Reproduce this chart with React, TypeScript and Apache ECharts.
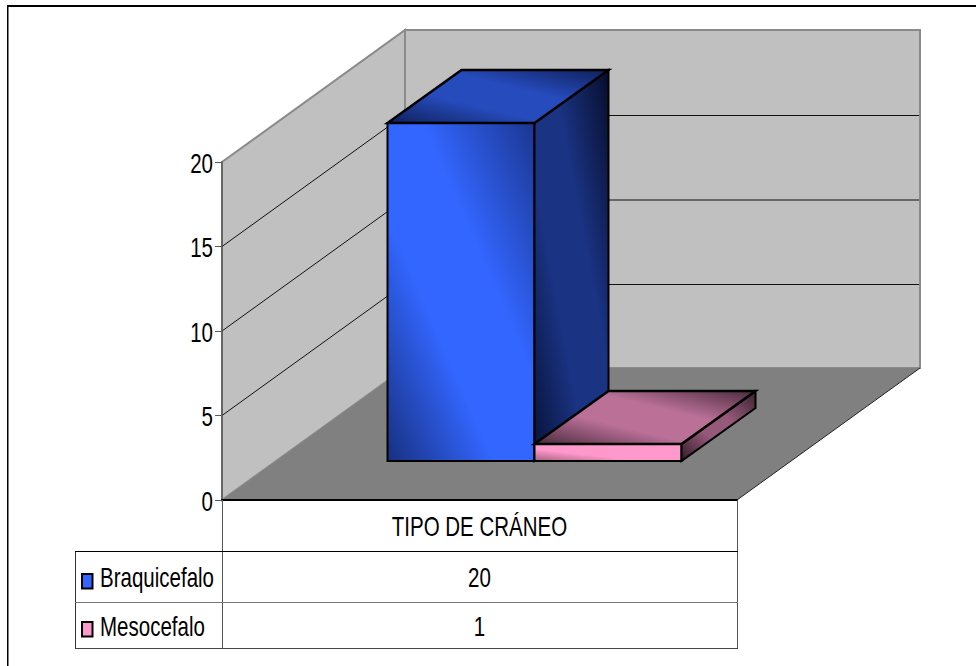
import React, { useEffect, useRef } from "react";
import * as echarts from "echarts";

// Chart contents
const categories = ["TIPO DE CRÁNEO"];
const braquicefalo = [20];
const mesocefalo = [1];
const seriesNames = ["Braquicefalo", "Mesocefalo"];
const yTickValues = [0, 5, 10, 15, 20];
const gridTicks = [5, 10, 15];

// Narrow lettering is obtained by squeezing Liberation Sans horizontally
const FONT = "'Liberation Sans', Arial, sans-serif";
const FONT_SIZE = 27;
const TEXT_SQUEEZE = 0.76;

// Projection of the 3D box onto the page
const WALL_DX = 183;
const WALL_DY = 132;
const BACK_LINE_NUDGE = 1;
const BAR_SHIFT_DX = 55;
const BAR_SHIFT_DY = 39;
const BAR_DEPTH_DX = 74;
const BAR_DEPTH_DY = 53;
const BAR_WIDTH = 147;

type Stops = [string, string, string];
const diag = (c: Stops) => ({
  type: "linear",
  x: 0,
  y: 1,
  x2: 1,
  y2: 0,
  colorStops: [
    { offset: 0, color: c[0] },
    { offset: 0.36, color: c[1] },
    { offset: 0.62, color: c[1] },
    { offset: 1, color: c[2] },
  ],
});

const BLUE = {
  front: diag(["#17307f", "#3366ff", "#1b3690"]),
  side: diag(["#081238", "#1a3383", "#070d2a"]),
  top: diag(["#0e1f5a", "#264bbc", "#0e1f5a"]),
  key: "#3366ff",
};
const PINK = {
  front: diag(["#a3617f", "#ff99cc", "#ff99cc"]),
  side: diag(["#2f1a26", "#96597a", "#3a2230"]),
  top: diag(["#4a2b3d", "#bb7098", "#4a2b3d"]),
  key: "#ff99cc",
};

const squeezedText = (text: string, x: number, y: number, align: string, z2 = 5) => ({
  type: "text",
  x,
  y,
  scaleX: TEXT_SQUEEZE,
  z2,
  style: { text, fill: "#000", font: `${FONT_SIZE}px ${FONT}`, align, verticalAlign: "middle" },
});

// Draws the walls, floor and gridlines of the box from the axis scales.
function renderScene(params: any, api: any) {
  const cs = params.coordSys;
  const x0 = cs.x;
  const x1 = cs.x + cs.width;
  const yZero = api.coord([0, 0])[1];
  const yTop = api.coord([0, 20])[1];
  const wallEdge = { stroke: "#8a8a8a", lineWidth: 2 };
  const children: any[] = [
    {
      type: "polygon",
      shape: { points: [[x0, yZero], [x0, yTop], [x0 + WALL_DX, yTop - WALL_DY], [x0 + WALL_DX, yZero - WALL_DY]] },
      style: { fill: "#c0c0c0", ...wallEdge },
    },
    {
      type: "polygon",
      shape: { points: [[x0 + WALL_DX, yZero - WALL_DY], [x0 + WALL_DX, yTop - WALL_DY], [x1 + WALL_DX, yTop - WALL_DY], [x1 + WALL_DX, yZero - WALL_DY]] },
      style: { fill: "#c0c0c0", ...wallEdge },
    },
    {
      type: "polygon",
      shape: { points: [[x0, yZero], [x0 + WALL_DX, yZero - WALL_DY], [x1 + WALL_DX, yZero - WALL_DY], [x1, yZero]] },
      style: { fill: "#808080" },
    },
    {
      type: "line",
      shape: { x1: x1, y1: yZero, x2: x1 + WALL_DX, y2: yZero - WALL_DY },
      style: { stroke: "#222", lineWidth: 1 },
    },
  ];
  gridTicks.forEach((t) => {
    const y = api.coord([0, t])[1];
    children.push({
      type: "polyline",
      shape: { points: [[x0, y], [x0 + WALL_DX, y - WALL_DY], [x0 + WALL_DX, y - WALL_DY + BACK_LINE_NUDGE], [x1 + WALL_DX - 1, y - WALL_DY + BACK_LINE_NUDGE]] },
      style: { fill: "none", stroke: "#111", lineWidth: 1 },
    });
  });
  return { type: "group", children };
}

// Tick labels of both axes, placed from the axis scales.
function renderAxisText(params: any, api: any) {
  const cs = params.coordSys;
  const children: any[] = yTickValues.map((v) =>
    squeezedText(String(v), cs.x - 9, api.coord([0, v])[1] + 1, "right"),
  );
  children.push(squeezedText(categories[0], api.coord([0, 0])[0], api.coord([0, 0])[1] + 26, "center"));
  return { type: "group", children };
}

// One 3D column; index 0 sits left of the category centre, index 1 right of it.
function barRenderer(index: number, look: typeof BLUE) {
  return (_params: any, api: any) => {
    const centre = api.coord([api.value(0), 0])[0];
    const yZero = api.coord([0, 0])[1] - BAR_SHIFT_DY;
    const top = api.coord([0, api.value(1)])[1] - BAR_SHIFT_DY;
    const l = centre + BAR_SHIFT_DX + (index - 1) * BAR_WIDTH;
    const r = l + BAR_WIDTH;
    const dx = BAR_DEPTH_DX;
    const dy = BAR_DEPTH_DY;
    return {
      type: "group",
      children: [
        {
          type: "polygon",
          shape: { points: [[l, yZero], [l, top], [r, top], [r, yZero]] },
          style: { fill: look.front, stroke: "#000", lineWidth: 2, lineJoin: "miter" },
        },
        {
          type: "polygon",
          shape: { points: [[r, yZero], [r, top], [r + dx, top - dy], [r + dx, yZero - dy]] },
          style: { fill: look.side, stroke: "#000", lineWidth: 2, lineJoin: "miter" },
        },
        {
          type: "polygon",
          shape: { points: [[l, top], [l + dx, top - dy], [r + dx, top - dy], [r, top]] },
          style: { fill: look.top, stroke: "#000", lineWidth: 2.5, lineJoin: "miter" },
        },
      ],
    };
  };
}

const tableLine = (x1: number, y1: number, x2: number, y2: number, stroke: string) => ({
  type: "line",
  z: 10,
  shape: { x1, y1, x2, y2 },
  style: { stroke, lineWidth: 1 },
});

const cellText = (text: string, x: number, y: number, align: string) => ({
  type: "text",
  z: 11,
  x,
  y,
  scaleX: TEXT_SQUEEZE,
  style: { text, fill: "#000", font: `${FONT_SIZE}px ${FONT}`, align, verticalAlign: "middle" },
});

const keyBox = (y: number, fill: string) => ({
  type: "rect",
  z: 11,
  shape: { x: 82, y, width: 10.5, height: 14.5 },
  style: { fill, stroke: "#000", lineWidth: 2 },
});

export default function App() {
  const ref = useRef<HTMLDivElement>(null);

  useEffect(() => {
    const chart = echarts.init(ref.current!, undefined, { renderer: "svg" });
    chart.setOption({
      animation: false,
      backgroundColor: "#fff",
      grid: { left: 222, top: 162, width: 515, height: 338, containLabel: false },
      xAxis: {
        type: "category",
        data: categories,
        z: 6,
        axisLine: { lineStyle: { color: "#000", width: 2 } },
        axisTick: { show: false },
        axisLabel: { show: false },
        splitLine: { show: false },
      },
      yAxis: {
        type: "value",
        min: 0,
        max: 20,
        interval: 5,
        z: 6,
        axisLine: { show: true, lineStyle: { color: "#5a5a5a", width: 1.5 } },
        axisTick: { show: true, length: 7, lineStyle: { color: "#5a5a5a", width: 1 } },
        axisLabel: { show: false },
        splitLine: { show: false },
      },
      series: [
        { type: "custom", name: "scene", data: [[0, 0]], renderItem: renderScene, silent: true },
        { type: "custom", name: seriesNames[0], data: braquicefalo.map((v, i) => [i, v]), renderItem: barRenderer(0, BLUE), encode: { x: 0, y: 1 } },
        { type: "custom", name: seriesNames[1], data: mesocefalo.map((v, i) => [i, v]), renderItem: barRenderer(1, PINK), encode: { x: 0, y: 1 } },
        { type: "custom", name: "axis text", data: [[0, 0]], renderItem: renderAxisText, silent: true },
      ],
      graphic: [
        // Outer frame, running off the right and bottom of the page
        { type: "rect", z: 10, shape: { x: 7, y: 5, width: 969, height: 2 }, style: { fill: "#000" } },
        { type: "rect", z: 10, shape: { x: 7, y: 5, width: 1.5, height: 661 }, style: { fill: "#000" } },
        // Data table
        tableLine(222.5, 500, 222.5, 648.5, "#555"),
        tableLine(737.5, 500, 737.5, 648.5, "#555"),
        tableLine(75.5, 551, 75.5, 648.5, "#333"),
        tableLine(75, 551.5, 738, 551.5, "#000"),
        tableLine(75, 602.5, 738, 602.5, "#777"),
        tableLine(75, 648.5, 738, 648.5, "#444"),
        keyBox(574, BLUE.key),
        keyBox(622, PINK.key),
        cellText(seriesNames[0], 100, 577, "left"),
        cellText(seriesNames[1], 100, 626, "left"),
        cellText(String(braquicefalo[0]), 479.5, 577, "center"),
        cellText(String(mesocefalo[0]), 479.5, 626, "center"),
      ],
    });
    return () => chart.dispose();
  }, []);

  return <div ref={ref} style={{ position: "absolute", left: 0, top: 0, width: 976, height: 666 }} />;
}
